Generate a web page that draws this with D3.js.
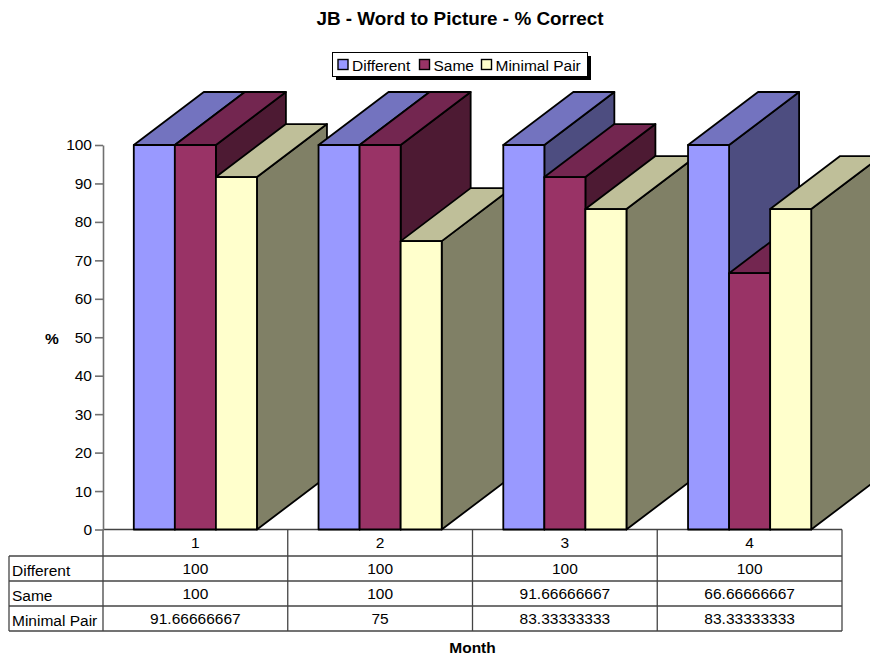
<!DOCTYPE html>
<html>
<head>
<meta charset="utf-8">
<script src="https://cdn.jsdelivr.net/npm/d3@7"></script>
<style>
html,body{margin:0;padding:0;background:#fff;overflow:hidden}
svg{display:block}
text{font-family:"Liberation Sans",Arial,sans-serif;fill:#000}
</style>
</head>
<body>
<svg id="chart" width="870" height="659"></svg>
<script>
// Chart content
const months = ["1", "2", "3", "4"];
const seriesNames = ["Different", "Same", "Minimal Pair"];
const different = [100, 100, 100, 100];
const same = [100, 100, 91.66666667, 66.66666667];
const minimalPair = [91.66666667, 75, 83.33333333, 83.33333333];
const yTicks = [0, 10, 20, 30, 40, 50, 60, 70, 80, 90, 100];
const frontColors = ["#9999ff", "#993366", "#ffffcc"];
const topColors = ["#7373bf", "#732650", "#bfbf99"];
const sideColors = ["#4d4d80", "#4d1a33", "#808066"];

const seriesValues = [different, same, minimalPair];
const svg = d3.select("#chart");

// Plot frame and extrusion of the 3D columns
const plot = {left: 103, right: 842, top: 145, bottom: 529.5};
const depth = {dx: 70, dy: -53};
const table = {left: 9, rows: [529.5, 556, 581, 606, 631]};
const fontSize = 15.5;

const x0 = d3.scaleBand().domain(months).range([plot.left, plot.right])
  .paddingInner(1 / 3).paddingOuter(1 / 6);
const x1 = d3.scaleBand().domain(seriesNames).range([0, x0.bandwidth()]);
const y = d3.scaleLinear().domain([0, 100]).range([plot.bottom, plot.top]);

// Data table under the plot
const tableG = svg.append("g").attr("stroke", "#444").attr("stroke-width", 1.3);
const r = table.rows, last = r[r.length - 1];
tableG.append("line").attr("x1", plot.left).attr("x2", plot.right).attr("y1", r[0]).attr("y2", r[0]);
r.slice(1).forEach(v => tableG.append("line")
  .attr("x1", table.left).attr("x2", plot.right).attr("y1", v).attr("y2", v));
tableG.append("line").attr("x1", table.left).attr("x2", table.left).attr("y1", r[1]).attr("y2", last);
[plot.left, plot.left + x0.step(), plot.left + 2 * x0.step(), plot.left + 3 * x0.step(), plot.right]
  .forEach(v => tableG.append("line").attr("x1", v).attr("x2", v).attr("y1", r[0]).attr("y2", last));

// Value axis
const axis = svg.append("g")
  .attr("transform", `translate(${plot.left},0)`)
  .call(d3.axisLeft(y).tickValues(yTicks).tickSize(8).tickSizeOuter(0).tickPadding(3));
axis.selectAll("path,line").attr("stroke", "#707070").attr("stroke-width", 1.6);
axis.selectAll("text").attr("font-size", fontSize).attr("fill", "#000")
  .style("font-family", '"Liberation Sans",Arial,sans-serif');

// Columns: each column paints over the side of the one before it
const poly = (g, pts, fill) => g.append("polygon")
  .attr("points", pts.map(p => p.join(",")).join(" "))
  .attr("fill", fill).attr("stroke", "#000").attr("stroke-width", 1.8)
  .attr("stroke-linejoin", "round");

months.forEach((m, mi) => {
  const g = svg.append("g");
  seriesNames.forEach((s, si) => {
    const xa = x0(m) + x1(s), xb = xa + x1.bandwidth();
    const yt = y(seriesValues[si][mi]), yb = y(0);
    const {dx, dy} = depth;
    poly(g, [[xb, yt], [xb + dx, yt + dy], [xb + dx, yb + dy], [xb, yb]], sideColors[si]);
    poly(g, [[xa, yt], [xa + dx, yt + dy], [xb + dx, yt + dy], [xb, yt]], topColors[si]);
    poly(g, [[xa, yt], [xb, yt], [xb, yb], [xa, yb]], frontColors[si]);
  });
});

const label = (t, px, py, opts = {}) => svg.append("text")
  .attr("x", px).attr("y", py).text(t)
  .attr("font-size", opts.size || fontSize)
  .attr("font-weight", opts.bold ? "bold" : "normal")
  .attr("text-anchor", opts.anchor || "middle");

const center = m => x0(m) + x0.bandwidth() / 2;
months.forEach((m, mi) => {
  label(m, center(m), 548);
  seriesValues.forEach((vals, si) => label(String(vals[mi]), center(m), 574 + si * 25));
});
seriesNames.forEach((s, si) => label(s, 12, 576 + si * 25, {anchor: "start"}));

// Titles
label("JB - Word to Picture - % Correct", 460, 25, {size: 18.9, bold: true});
label("%", 52, 344, {bold: true});
label("Month", 472.5, 653, {bold: true});

// Legend with drop shadow
const legend = svg.append("g");
legend.append("rect").attr("x", 336).attr("y", 56).attr("width", 255).attr("height", 24).attr("fill", "#000");
legend.append("rect").attr("x", 332.5).attr("y", 52.5).attr("width", 255).attr("height", 24)
  .attr("fill", "#fff").attr("stroke", "#000").attr("stroke-width", 1);
const legendSwatchX = [338, 419.5, 481.5];
seriesNames.forEach((s, si) => {
  legend.append("rect").attr("x", legendSwatchX[si]).attr("y", 59.5).attr("width", 10).attr("height", 10)
    .attr("fill", frontColors[si]).attr("stroke", "#000").attr("stroke-width", 1.4);
  label(s, legendSwatchX[si] + 14, 70.5, {anchor: "start"});
});
</script>
</body>
</html>
